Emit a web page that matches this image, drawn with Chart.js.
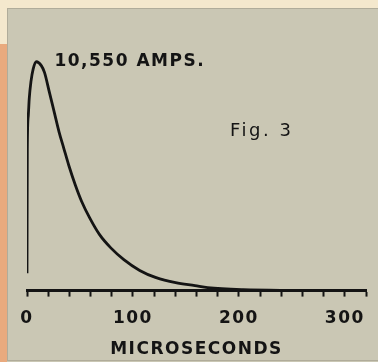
<!DOCTYPE html>
<html>
<head>
<meta charset="utf-8">
<script src="https://cdn.jsdelivr.net/npm/chart.js@4.4.1/dist/chart.umd.min.js"></script>
<style>
  html, body { margin: 0; padding: 0; background: #f4e8cd; }
  #wrap { width: 378px; height: 362px; }
</style>
</head>
<body>
<div id="wrap"><canvas id="surge"></canvas></div>
<script>
// surge current wave: time in microseconds, current in amperes
const timeUs = [0, 0.3, 1.2, 2.1, 3.7, 5.8, 8.9, 13.5, 16.5, 21.1, 25.7, 30.3, 34.8, 39.4, 45.6, 51.6, 59.3, 68.5, 79.1, 91.4, 106.4, 121.9, 140.3, 158.6, 170.5, 204, 250, 320];
const currentAmps = [800, 6550, 8060, 8840, 9620, 10210, 10550, 10370, 10060, 9150, 8230, 7310, 6550, 5780, 4870, 4110, 3340, 2580, 1970, 1430, 930, 595, 366, 229, 137, 40, 10, 0];
const labeledTicks = [0, 100, 200, 300];

const peakLabel = '10,550 AMPS.';
const figLabel = 'Fig. 3';
const axisTitle = 'MICROSECONDS';

const ink = '#141414';
const letterFont = { family: 'DejaVu Sans', weight: 'bold', size: 17 };

const points = timeUs.map((t, i) => ({ x: t, y: currentAmps[i] }));
let iPeak = 0;
currentAmps.forEach((a, i) => { if (a > currentAmps[iPeak]) iPeak = i; });

const paper = {
    id: 'paper',
    beforeDraw(chart) {
        const ctx = chart.ctx;
        const w = chart.width, h = chart.height;
        ctx.save();
        ctx.fillStyle = '#f4e8cd';
        ctx.fillRect(0, 0, w, h);
        ctx.fillStyle = '#e9aa7e';
        ctx.fillRect(0, 44, 7, h - 44);
        ctx.fillStyle = '#cac7b4';
        ctx.fillRect(7, 8, w - 7, h - 8);
        ctx.strokeStyle = 'rgba(150,146,128,0.5)';
        ctx.lineWidth = 1;
        ctx.strokeRect(7.5, 8.5, w, h - 10);
        ctx.restore();
        // spaced-out lettering for the axis text
        ctx.letterSpacing = '1.5px';
    },
    afterDraw(chart) {
        const ctx = chart.ctx;
        const xs = chart.scales.x, ys = chart.scales.y;
        ctx.save();
        ctx.fillStyle = ink;
        ctx.textBaseline = 'middle';
        ctx.textAlign = 'left';
        ctx.letterSpacing = '1.5px';
        ctx.font = 'bold 17px "DejaVu Sans"';
        ctx.fillText(peakLabel, xs.getPixelForValue(timeUs[iPeak]) + 18, ys.getPixelForValue(currentAmps[iPeak]));
        ctx.letterSpacing = '2.5px';
        ctx.font = '18px "DejaVu Sans"';
        ctx.fillText(figLabel, 230, 131);
        ctx.restore();
    }
};

new Chart(document.getElementById('surge'), {
    type: 'line',
    data: {
        datasets: [{
            data: points,
            borderColor: ink,
            borderWidth: 2.8,
            pointRadius: 0,
            fill: false,
            cubicInterpolationMode: 'monotone'
        }]
    },
    options: {
        responsive: true,
        maintainAspectRatio: false,
        animation: false,
        layout: { padding: { left: 27, right: 2, top: 52, bottom: 4 } },
        plugins: {
            legend: { display: false },
            tooltip: { enabled: false }
        },
        scales: {
            x: {
                type: 'linear',
                min: 0,
                max: 320,
                border: { display: true, color: ink, width: 3 },
                grid: { drawOnChartArea: false, tickLength: 6, tickColor: ink, tickWidth: 2 },
                ticks: {
                    stepSize: 20,
                    autoSkip: false,
                    maxRotation: 0,
                    padding: 12,
                    color: ink,
                    font: letterFont,
                    callback: v => labeledTicks.includes(v) ? String(v) : ''
                },
                title: {
                    display: true,
                    text: axisTitle,
                    color: ink,
                    font: { ...letterFont, lineHeight: 1 },
                    padding: { top: 0, bottom: 0 }
                }
            },
            y: { display: false, min: 0, max: 11000 }
        }
    },
    plugins: [paper]
});
</script>
</body>
</html>
